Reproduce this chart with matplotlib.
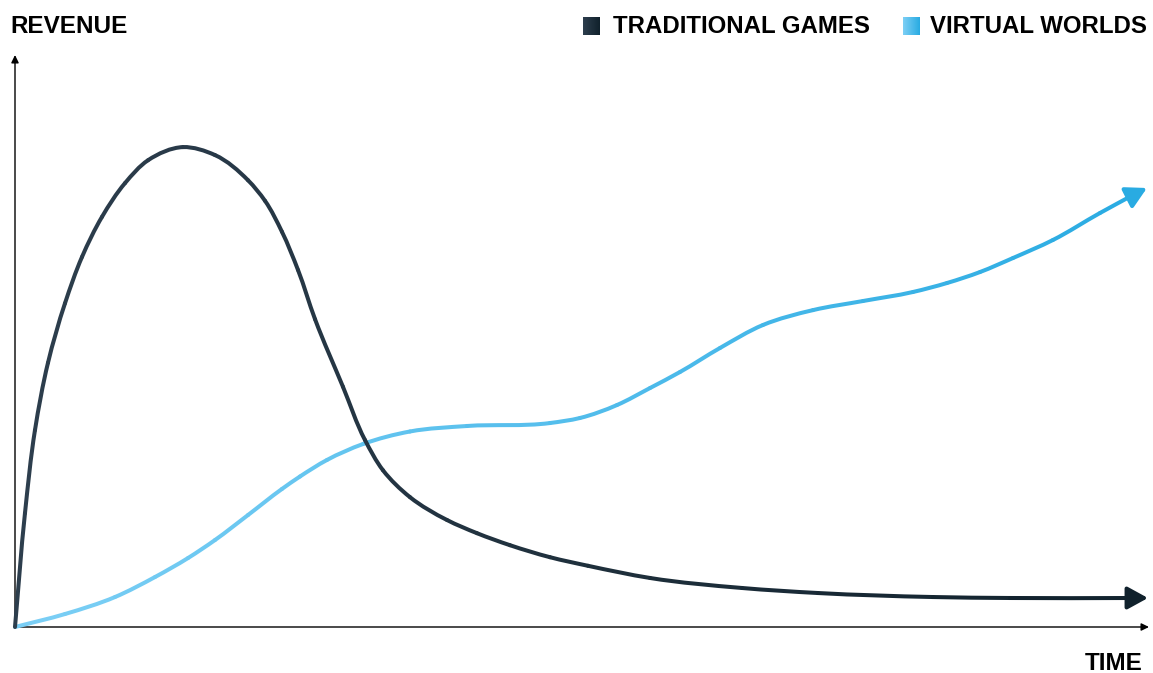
import numpy as np
import matplotlib
matplotlib.use("Agg")
import matplotlib.pyplot as plt
from matplotlib.path import Path
from matplotlib.patches import PathPatch
from matplotlib.colors import to_rgb

# ---------------- data (time 0-100, revenue 0-100) ----------------
trad_time = [0.00, 0.88, 1.76, 2.91, 4.41, 5.91, 7.67, 9.70, 11.73, 14.81, 17.64,
             20.55, 22.05, 23.54, 24.96, 26.46, 28.92, 30.86, 32.45, 34.83, 38.10,
             40.74, 43.65, 47.18, 50.53, 56.00, 64.11, 70.81, 80.95, 87.74, 98.59,
             99.91]
trad_revenue = [0.0, 19.9, 34.4, 46.2, 56.6, 64.7, 71.7, 77.6, 81.6, 83.9, 82.5,
                78.1, 74.5, 69.1, 62.4, 53.8, 42.0, 32.7, 27.4, 22.7, 18.7,
                16.4, 14.3, 12.2, 10.7, 8.57, 6.82, 5.94, 5.24, 5.07, 5.07,
                5.07]

virt_time = [0.00, 4.41, 8.82, 12.35, 15.26, 17.64, 20.55, 23.54, 25.13, 27.51,
             30.69, 34.83, 39.86, 47.18, 49.82, 53.09, 56.00, 58.64, 62.17, 65.96,
             70.37, 74.78, 79.19, 82.19, 85.10, 88.01, 91.53, 95.68, 98.59, 99.82]
virt_revenue = [0.0, 2.27, 5.24, 8.74, 12.06, 15.21, 19.58, 24.13, 26.31, 29.20,
                31.99, 34.18, 35.14, 35.66, 36.54, 38.81, 41.78, 44.58, 48.78, 52.80,
                55.40, 56.99, 58.57, 60.14, 62.06, 64.51, 67.66, 72.38, 75.52, 76.75]

series_names = ["TRADITIONAL GAMES", "VIRTUAL WORLDS"]
trad_colors = ("#2d3e4d", "#10212c")
virt_colors = ("#7ccff5", "#29abe2")

W, H = 1153, 673
plt.rcParams['font.family'] = ['Liberation Sans', 'DejaVu Sans']
fig = plt.figure(figsize=(W / 100, H / 100), dpi=100)

# axes spanning exact plotting region
x0, x1 = 15, 1149
y_bot, y_top = 627, 55
ax = fig.add_axes([x0 / W, (H - y_bot) / H, (x1 - x0) / W, (y_bot - y_top) / H])
ax.set_xlim(0, 100)
ax.set_ylim(0, 100)
ax.axis("off")

LW = 2.9
SCALE = np.array([(x1 - x0) / 100.0, (y_bot - y_top) / 100.0])  # data -> pixels


def smooth_grad_line(t, r, c0, c1, zorder):
    """Draw the series as chord-length Hermite Bezier pieces with a colour
    gradient, ending with an arrowhead on the final point."""
    P = np.column_stack([np.asarray(t, float), np.asarray(r, float)])
    n = len(P) - 1  # last point is the arrow tip
    Q = P[:n] * SCALE
    d = np.linalg.norm(np.diff(Q, axis=0), axis=1)
    m = np.zeros_like(Q)
    m[0] = (Q[1] - Q[0]) / d[0]
    m[-1] = (Q[-1] - Q[-2]) / d[-1]
    for i in range(1, n - 1):
        s0 = (Q[i] - Q[i - 1]) / d[i - 1]
        s1 = (Q[i + 1] - Q[i]) / d[i]
        m[i] = (s0 * d[i] + s1 * d[i - 1]) / (d[i - 1] + d[i])
    a, b = np.array(to_rgb(c0)), np.array(to_rgb(c1))
    for i in range(n - 1):
        h = d[i]
        ca = (Q[i] + m[i] * h / 3) / SCALE
        cb = (Q[i + 1] - m[i + 1] * h / 3) / SCALE
        path = Path([P[i], ca, cb, P[i + 1]],
                    [Path.MOVETO, Path.CURVE4, Path.CURVE4, Path.CURVE4])
        f = (P[i, 0] + P[i + 1, 0]) / 200.0
        col = a * (1 - f) + b * f
        ax.add_patch(PathPatch(path, fill=False, edgecolor=col, lw=LW,
                               capstyle="round", joinstyle="round",
                               zorder=zorder, clip_on=False))
    ax.annotate("", xy=tuple(P[-1]), xytext=tuple(P[-2]),
                arrowprops=dict(arrowstyle="-|>,head_length=0.62,head_width=0.34",
                                mutation_scale=20, color=c1, lw=LW,
                                shrinkA=0, shrinkB=0),
                zorder=zorder, annotation_clip=False)


smooth_grad_line(virt_time, virt_revenue, *virt_colors, zorder=3)
smooth_grad_line(trad_time, trad_revenue, *trad_colors, zorder=4)

# axis arrows
axis_arrow = dict(arrowstyle="-|>,head_length=0.45,head_width=0.22",
                  mutation_scale=10, color="black", lw=1.0, shrinkA=0, shrinkB=0)
ax.annotate("", xy=(1, 0), xytext=(0, 0), xycoords="axes fraction",
            arrowprops=axis_arrow, annotation_clip=False, zorder=2)
ax.annotate("", xy=(0, 1), xytext=(0, 0), xycoords="axes fraction",
            arrowprops=axis_arrow, annotation_clip=False, zorder=2)

fs = 17.5
fig.text(10 / W, 1 - 33 / H, "REVENUE", fontsize=fs, fontweight="bold",
         ha="left", va="baseline", color="black")
fig.text(1143 / W, 1 - 670 / H, "TIME", fontsize=fs, fontweight="bold",
         ha="right", va="baseline", color="black")

# legend with gradient swatches
legend_items = [(583, 613, trad_colors, series_names[0]),
                (903, 930, virt_colors, series_names[1])]
for sx, tx, (c0, c1), name in legend_items:
    sax = fig.add_axes([sx / W, 1 - 35 / H, 17 / W, 18 / H])
    g = np.linspace(0, 1, 64)
    a, b = np.array(to_rgb(c0)), np.array(to_rgb(c1))
    img = a[None, None, :] * (1 - g[None, :, None]) + b[None, None, :] * g[None, :, None]
    sax.imshow(img, aspect="auto", extent=[0, 1, 0, 1])
    sax.axis("off")
    fig.text(tx / W, 1 - 33 / H, name, fontsize=fs * 0.985, fontweight="bold",
             ha="left", va="baseline", color="black")

fig.savefig("out.png", dpi=100, facecolor="white")
